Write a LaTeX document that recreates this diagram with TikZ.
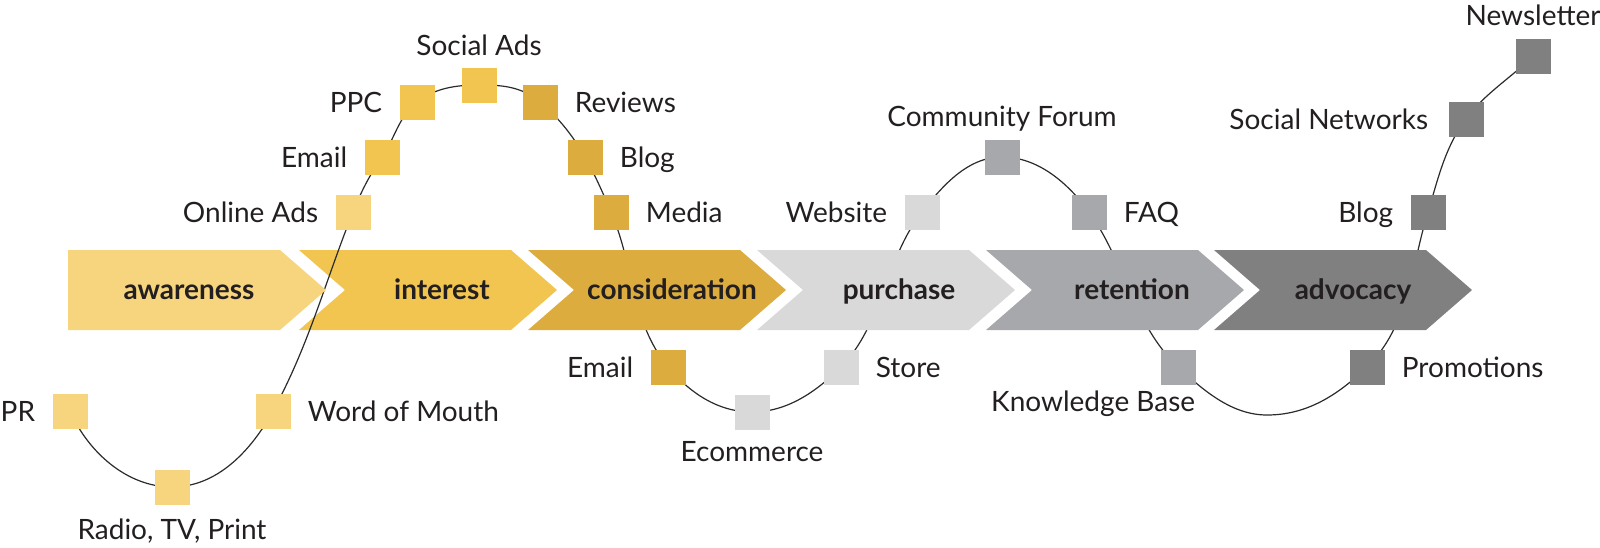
\documentclass[tikz,border=0pt]{standalone}
\usepackage{fontspec}
\setmainfont{Lato}
\usepackage{tikz}
\usetikzlibrary{positioning,backgrounds}

\definecolor{awarenesscol}{HTML}{F6D57E}
\definecolor{interestcol}{HTML}{F2C550}
\definecolor{considcol}{HTML}{DCAC3E}
\definecolor{purchasecol}{HTML}{D9D9D9}
\definecolor{retentioncol}{HTML}{A7A8AB}
\definecolor{advocacycol}{HTML}{808080}
\definecolor{labeltext}{HTML}{231F20}
\definecolor{curveline}{HTML}{2B2B2B}

\tikzset{box/.style={draw=none,minimum size=17.5pt,inner sep=0pt,outer sep=0pt}}
\tikzset{lbl/.style={inner sep=0pt,text=labeltext,font=\fontsize{14}{16}\selectfont,text height=10pt,text depth=0pt}}
\tikzset{stage/.style={anchor=base,text=labeltext,font=\fontsize{14}{16}\selectfont\bfseries}}
\tikzset{curve/.style={draw=curveline,line width=0.6pt}}

\begin{document}
\begin{tikzpicture}[x=0.5pt, y=-0.5pt, node distance=8.5pt]
    \useasboundingbox (0,0) rectangle (1600,547);

    % touchpoint squares
    \node[box,fill=awarenesscol] (pr) at (70,411) {};
    \node[box,fill=awarenesscol] (radio) at (172,487) {};
    \node[box,fill=awarenesscol] (wom) at (273,411) {};
    \node[box,fill=awarenesscol] (onlineads) at (353,212) {};
    \node[box,fill=interestcol] (email) at (382,157) {};
    \node[box,fill=interestcol] (ppc) at (417,102) {};
    \node[box,fill=interestcol] (socialads) at (479,85) {};
    \node[box,fill=considcol] (reviews) at (540,102) {};
    \node[box,fill=considcol] (blog) at (585,157) {};
    \node[box,fill=considcol] (media) at (611,212) {};
    \node[box,fill=considcol] (mail) at (668,367) {};
    \node[box,fill=purchasecol] (ecommerce) at (752,412) {};
    \node[box,fill=purchasecol] (store) at (841,367) {};
    \node[box,fill=purchasecol] (website) at (922,212) {};
    \node[box,fill=retentioncol] (forum) at (1002,157) {};
    \node[box,fill=retentioncol] (faq) at (1089,212) {};
    \node[box,fill=retentioncol] (kb) at (1178,367) {};
    \node[box,fill=advocacycol] (promotions) at (1367,367) {};
    \node[box,fill=advocacycol] (blogb) at (1428,212) {};
    \node[box,fill=advocacycol] (networks) at (1466,119) {};
    \node[box,fill=advocacycol] (newsletter) at (1533,56) {};
    \coordinate (dip) at (1267,415);

    % labels
    \node[lbl,left=of pr] (prl) {PR};
    \node[lbl,below=7.5pt of radio] (radiol) {Radio, TV, Print};
    \node[lbl,right=of wom] (woml) {Word of Mouth};
    \node[lbl,left=of onlineads] (onlineadsl) {Online Ads};
    \node[lbl,left=of email] (emaill) {Email};
    \node[lbl,left=of ppc] (ppcl) {PPC};
    \node[lbl,above=6pt of socialads] (socialadsl) {Social Ads};
    \node[lbl,right=of reviews] (reviewsl) {Reviews};
    \node[lbl,right=of blog] (blogl) {Blog};
    \node[lbl,right=of media] (medial) {Media};
    \node[lbl,left=of mail] (maill) {Email};
    \node[lbl,below=6pt of ecommerce] (ecommercel) {Ecommerce};
    \node[lbl,right=of store] (storel) {Store};
    \node[lbl,left=of website] (websitel) {Website};
    \node[lbl,above=6.5pt of forum] (foruml) {Community Forum};
    \node[lbl,right=of faq] (faql) {FAQ};
    \node[lbl,below=3.5pt of kb.south east,anchor=north east] (kbl) {Knowledge Base};
    \node[lbl,right=of promotions] (promotionsl) {Promotions};
    \node[lbl,left=of blogb] (blogbl) {Blog};
    \node[lbl,left=10pt of networks] (networksl) {Social Networks};
    \node[lbl,above=6.5pt of newsletter] (newsletterl) {Newsletter};

    \begin{scope}[on background layer]
    \fill[interestcol] (299,250) -- (511,250) -- (557,290) -- (511,330) -- (299,330) -- (345,290) -- cycle;
    % the journey line
    \draw[curve] (pr.center)
        .. controls +(18,41) and +(-45,0) .. (radio.center)
        .. controls +(45,0) and +(-22,40) .. (wom.center)
        .. controls +(36,-66) and +(-28,70) .. (onlineads.center)
        .. controls +(8,-20) and +(-13,19) .. (email.center)
        .. controls +(13,-19) and +(-18,14) .. (ppc.center)
        .. controls +(18,-14) and +(-23,0) .. (socialads.center)
        .. controls +(22,0) and +(-19,-16) .. (reviews.center)
        .. controls +(19,16) and +(-12,-21) .. (blog.center)
        .. controls +(10,18) and +(-8,-19) .. (media.center)
        .. controls +(23,53) and +(-37,-45) .. (mail.center)
        .. controls +(22,26) and +(-34,0) .. (ecommerce.center)
        .. controls +(35,0) and +(-25,25) .. (store.center)
        .. controls +(42,-43) and +(-37,47) .. (website.center)
        .. controls +(21,-27) and +(-34,0) .. (forum.center)
        .. controls +(36,0) and +(-21,-29) .. (faq.center)
        .. controls +(36,50) and +(-45,-43) .. (kb.center)
        .. controls +(26,24) and +(-35,0) .. (dip)
        .. controls +(40,0) and +(-29,28) .. (promotions.center)
        .. controls +(42,-41) and +(-17,55) .. (blogb.center)
        .. controls +(10,-33) and +(-21,28) .. (networks.center)
        .. controls +(19,-26) and +(-22,22) .. (newsletter.center);
    \fill[awarenesscol] (68,250) -- (280,250) -- (326,290) -- (280,330) -- (68,330) -- cycle;
    \fill[considcol] (528,250) -- (740,250) -- (786,290) -- (740,330) -- (528,330) -- (574,290) -- cycle;
    \fill[purchasecol] (757,250) -- (969,250) -- (1015,290) -- (969,330) -- (757,330) -- (803,290) -- cycle;
    \fill[retentioncol] (986,250) -- (1198,250) -- (1244,290) -- (1198,330) -- (986,330) -- (1032,290) -- cycle;
    \fill[advocacycol] (1214,250) -- (1426,250) -- (1472,290) -- (1426,330) -- (1214,330) -- (1260,290) -- cycle;
    \end{scope}

    % stage names
    \node[stage] (awareness) at (189,299) {awareness};
    \node[stage] (interest) at (442,299) {interest};
    \node[stage] (consideration) at (672,299) {consideration};
    \node[stage] (purchase) at (899,299) {purchase};
    \node[stage] (retention) at (1132,299) {retention};
    \node[stage] (advocacy) at (1353,299) {advocacy};
\end{tikzpicture}
\end{document}
